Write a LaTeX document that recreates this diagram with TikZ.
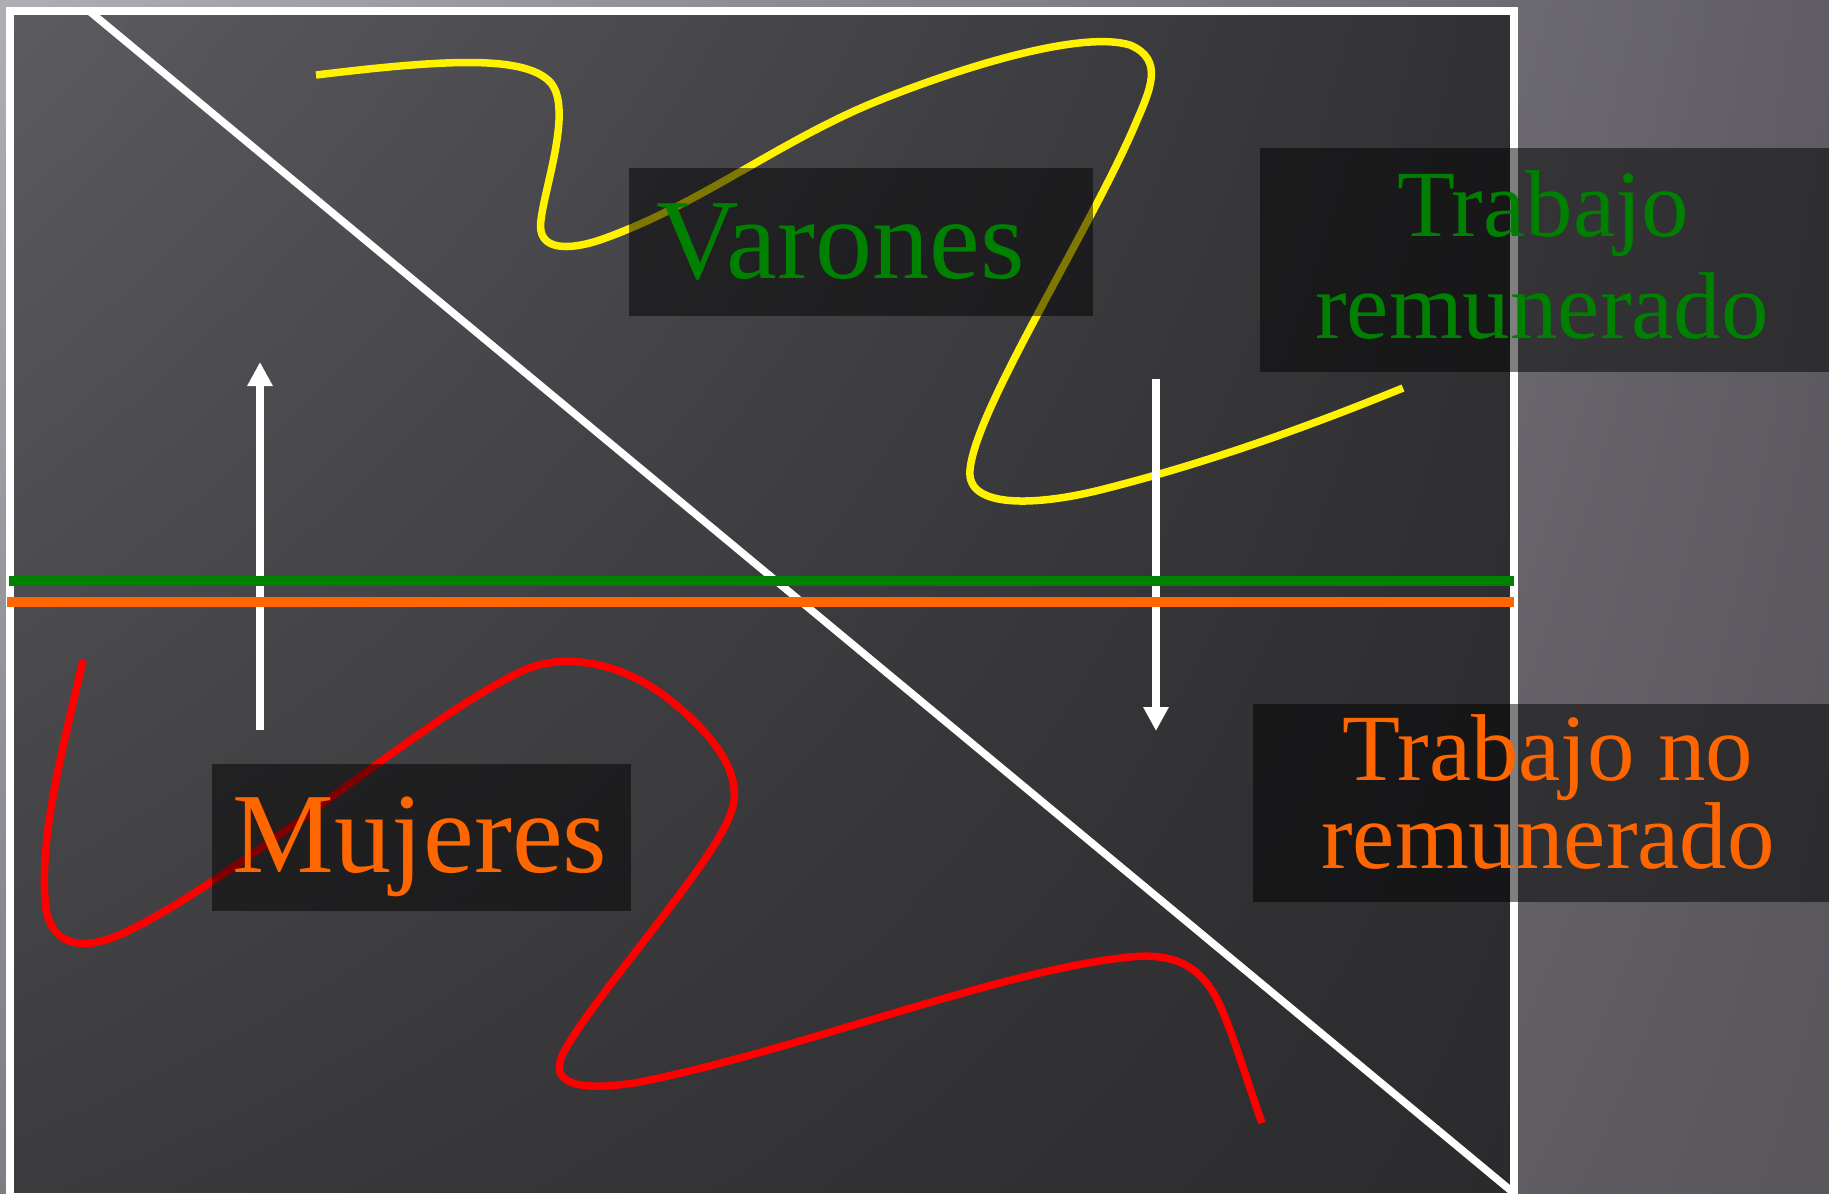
\documentclass[tikz,border=0pt]{standalone}
\usepackage{fontspec}
\setmainfont{Liberation Serif}
\usetikzlibrary{arrows.meta,shadings}
\definecolor{outUL}{HTML}{B0ADB5}
\definecolor{outUR}{HTML}{5F5D63}
\definecolor{outLL}{HTML}{7F7C83}
\definecolor{outLR}{HTML}{58565B}
\definecolor{inUL}{HTML}{5C5B60}
\definecolor{inUR}{HTML}{313033}
\definecolor{inLL}{HTML}{3B3B3D}
\definecolor{inLR}{HTML}{2B2A2D}
\definecolor{vgreen}{HTML}{008000}
\definecolor{morange}{HTML}{FF6600}
\tikzset{
  labelbox/.style={draw=none, fill=black, fill opacity=0.5, inner sep=0pt, anchor=north west},
  bigtext/.style={inner sep=0pt, anchor=base, font=\fontsize{32.5}{38}\selectfont},
  midtext/.style={inner sep=0pt, anchor=base, font=\fontsize{27}{32}\selectfont},
  curveline/.style={line width=0.075cm, line join=round},
  whiteline/.style={white, line width=0.075cm},
  levelline/.style={line width=0.1cm},
  flowarrow/.style={white, line width=0.08cm, -{Triangle[length=0.24cm,width=0.24cm]}}
}
\begin{document}
\begin{tikzpicture}[x=0.01cm,y=-0.01cm]
\useasboundingbox (0,0) rectangle (1829,1193);
% slide background
\shade[upper left=outUL, upper right=outUR, lower left=outLL, lower right=outLR] (0,0) rectangle (1829,1193);
% picture area
\shade[upper left=inUL, upper right=inUR, lower left=inLL, lower right=inLR] (14,15) rectangle (1510,1193);
% diagonal
\begin{scope}
\clip (14,15) rectangle (1510,1193);
\draw[whiteline] (88,10) -- (1515,1194);
\end{scope}
% frame
\draw[white, line width=0.08cm] (10,11) rectangle (1514,1197);
% curves
\draw[curveline, yellow] (316,75) .. controls (440,60) and (520,55) .. (548,80)
  .. controls (575,103) and (545,185) .. (541,220)
  .. controls (536,252) and (570,250) .. (600,240)
  .. controls (700,205) and (780,140) .. (880,100)
  .. controls (960,68) and (1080,30) .. (1130,45)
  .. controls (1165,60) and (1150,90) .. (1135,125)
  .. controls (1090,230) and (975,410) .. (970,470)
  .. controls (966,510) and (1040,505) .. (1100,490)
  .. controls (1200,465) and (1300,430) .. (1403,388);
\draw[curveline, red] (83,660) .. controls (65,740) and (40,830) .. (45,900)
  .. controls (48,945) and (80,955) .. (130,930)
  .. controls (250,870) and (420,720) .. (520,672)
  .. controls (560,652) and (620,660) .. (670,700)
  .. controls (720,740) and (745,780) .. (730,815)
  .. controls (712,865) and (595,995) .. (565,1050)
  .. controls (545,1085) and (580,1092) .. (640,1082)
  .. controls (800,1050) and (1000,970) .. (1130,957)
  .. controls (1180,952) and (1205,970) .. (1222,1010)
  .. controls (1235,1040) and (1250,1090) .. (1262,1123);
% arrows
\coordinate (upA) at (260,730);
\coordinate (upB) at (260,362);
\coordinate (dnA) at (1156,379);
\coordinate (dnB) at (1156,731);
\draw[flowarrow] (upA) -- (upB);
\draw[flowarrow] (dnA) -- (dnB);
% level lines
\coordinate (gL) at (9,581);
\coordinate (gR) at (1514,581);
\coordinate (oL) at (7,602);
\coordinate (oR) at (1514,602);
\draw[levelline, vgreen] (gL) -- (gR);
\draw[levelline, morange] (oL) -- (oR);
% label boxes
\node[labelbox, minimum width=4.64cm, minimum height=1.48cm] (vbox) at (628,167) {};
\node[labelbox, minimum width=5.70cm, minimum height=2.24cm] (trbox) at (1259,147) {};
\node[labelbox, minimum width=5.77cm, minimum height=1.98cm] (tnbox) at (1252,703) {};
\node[labelbox, minimum width=4.19cm, minimum height=1.47cm] (mbox) at (211,763) {};
% texts
\node[bigtext, text=vgreen] (varones) at (841,278) {Varones};
\node[bigtext, text=morange] (mujeres) at (420,872) {Mujeres};
\node[midtext, text=vgreen] (tr1) at (1543,236) {Trabajo};
\node[midtext, text=vgreen] (tr2) at (1542,338) {remunerado};
\node[midtext, text=morange] (tn1) at (1548,780) {Trabajo no};
\node[midtext, text=morange] (tn2) at (1548,868) {remunerado};
\end{tikzpicture}
\end{document}
